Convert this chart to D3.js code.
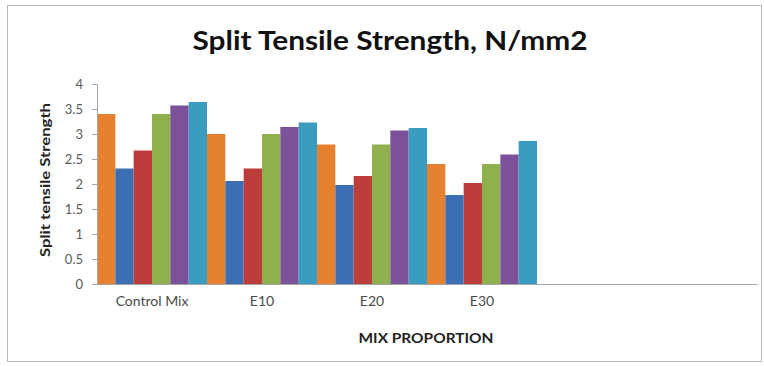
<!DOCTYPE html>
<html>
<head>
<meta charset="utf-8">
<script src="https://cdn.jsdelivr.net/npm/d3@7"></script>
<style>
  html, body { margin: 0; padding: 0; background: #fff; }
  svg { display: block; font-family: Lato, "Open Sans", sans-serif; }
</style>
</head>
<body>
<svg id="chart" width="764" height="366"></svg>
<script>
// Category slots on the x axis (the last two are left empty)
const categories = ["Control Mix", "E10", "E20", "E30", "", ""];

// Six mix series, one value per category (N/mm2)
const series1 = [3.40, 3.00, 2.79, 2.40];
const series2 = [2.31, 2.06, 1.98, 1.78];
const series3 = [2.67, 2.31, 2.16, 2.02];
const series4 = [3.40, 3.00, 2.79, 2.40];
const series5 = [3.57, 3.14, 3.07, 2.59];
const series6 = [3.64, 3.23, 3.12, 2.86];

const seriesNames = ["Series 1", "Series 2", "Series 3", "Series 4", "Series 5", "Series 6"];
const seriesValues = [series1, series2, series3, series4, series5, series6];
const seriesColors = ["#E6812F", "#3C6EB4", "#BC3D3A", "#8FB04C", "#7B5199", "#3A9DBF"];

const yTicks = [0, 0.5, 1, 1.5, 2, 2.5, 3, 3.5, 4];

const titleText = "Split Tensile Strength, N/mm2";
const yTitle = "Split tensile Strength";
const xTitle = "MIX PROPORTION";

const svg = d3.select("#chart");

// outer chart frame
svg.append("rect")
  .attr("x", 7.5).attr("y", 5.5)
  .attr("width", 754).attr("height", 356)
  .attr("fill", "#fff")
  .attr("stroke", "#b8b8b8")
  .attr("stroke-width", 1);

const plot = { left: 97, right: 757, top: 84, bottom: 284 };

const x0 = d3.scaleBand()
  .domain(d3.range(categories.length))
  .range([plot.left, plot.right])
  .paddingInner(0).paddingOuter(0);

const x1 = d3.scaleBand()
  .domain(seriesNames)
  .range([0, x0.bandwidth()])
  .padding(0);

const y = d3.scaleLinear()
  .domain([0, 4])
  .range([plot.bottom, plot.top]);

// bars
const groups = svg.append("g")
  .selectAll("g")
  .data(d3.range(series1.length))
  .join("g")
  .attr("transform", i => `translate(${x0(i)},0)`);

groups.selectAll("rect")
  .data(i => seriesNames.map((name, s) => ({ name, s, v: seriesValues[s][i] })))
  .join("rect")
  .attr("x", d => x1(d.name))
  .attr("width", x1.bandwidth())
  .attr("y", d => y(d.v))
  .attr("height", d => y(0) - y(d.v))
  .attr("fill", d => seriesColors[d.s]);

// y axis
const yAxis = svg.append("g")
  .attr("transform", `translate(${plot.left},0)`)
  .call(d3.axisLeft(y).tickValues(yTicks).tickSize(5).tickPadding(9).tickFormat(d3.format("")));
yAxis.select(".domain").attr("stroke", "#a6a6a6");
yAxis.selectAll(".tick line").attr("stroke", "#a6a6a6");
yAxis.selectAll(".tick text")
  .attr("fill", "#5a5a5a")
  .style("font-size", "13px")
  .style("font-family", "Lato, sans-serif");

// x axis
const xAxis = svg.append("g")
  .attr("transform", `translate(0,${plot.bottom})`)
  .call(d3.axisBottom(x0).tickSize(0).tickPadding(12).tickFormat(i => categories[i]));
xAxis.select(".domain").attr("stroke", "#a6a6a6");
xAxis.selectAll(".tick text")
  .attr("fill", "#4a4a4a")
  .style("font-size", "14px")
  .style("font-family", "Lato, sans-serif");

// titles
svg.append("text")
  .attr("x", 390).attr("y", 50)
  .attr("text-anchor", "middle")
  .attr("textLength", 395)
  .attr("lengthAdjust", "spacingAndGlyphs")
  .style("font-size", "26px")
  .style("font-weight", "bold")
  .attr("fill", "#111")
  .text(titleText);

svg.append("text")
  .attr("transform", `translate(50,180) rotate(-90)`)
  .attr("text-anchor", "middle")
  .attr("textLength", 154)
  .attr("lengthAdjust", "spacingAndGlyphs")
  .style("font-size", "14px")
  .style("font-weight", "bold")
  .attr("fill", "#222")
  .text(yTitle);

svg.append("text")
  .attr("x", (plot.left + plot.right) / 2 - 1).attr("y", 343)
  .attr("text-anchor", "middle")
  .attr("textLength", 135)
  .attr("lengthAdjust", "spacingAndGlyphs")
  .style("font-size", "14px")
  .style("font-weight", "bold")
  .attr("fill", "#222")
  .text(xTitle);
</script>
</body>
</html>
